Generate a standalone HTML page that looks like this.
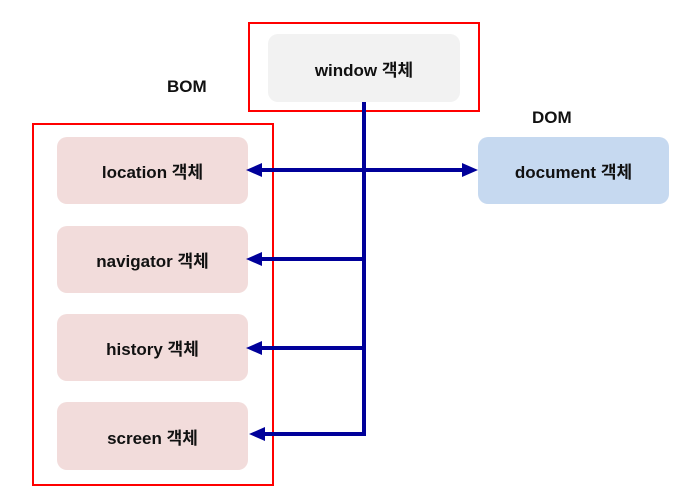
<!DOCTYPE html>
<html><head><meta charset="utf-8"><style>
body{margin:0;width:690px;height:490px;background:#fff;position:relative;overflow:hidden;font-family:"Liberation Sans","Noto Sans CJK KR",sans-serif}
.b{position:absolute;border-radius:10px;display:flex;align-items:center;justify-content:center;font-weight:bold;font-size:17px;color:#111}
.r{position:absolute;border:2px solid #f00;box-sizing:border-box}
.t{position:absolute;font-weight:bold;font-size:17px;color:#111}
</style></head><body>
<div class="r" style="left:248px;top:22px;width:232px;height:90px"></div>
<div class="r" style="left:32px;top:123px;width:242px;height:363px"></div>
<div class="b" style="left:268px;top:34px;width:192px;height:68px;background:#f2f2f2">window 객체</div>
<div class="b" style="left:57px;top:137px;width:191px;height:67px;background:#f2dcdb">location 객체</div>
<div class="b" style="left:57px;top:226px;width:191px;height:67px;background:#f2dcdb">navigator 객체</div>
<div class="b" style="left:57px;top:314px;width:191px;height:67px;background:#f2dcdb">history 객체</div>
<div class="b" style="left:57px;top:402px;width:191px;height:68px;background:#f2dcdb">screen 객체</div>
<div class="b" style="left:478px;top:137px;width:191px;height:67px;background:#c6d9f0">document 객체</div>
<div class="t" style="left:167px;top:77px">BOM</div>
<div class="t" style="left:532px;top:108px">DOM</div>
<svg width="690" height="490" style="position:absolute;left:0;top:0">
<g stroke="#00009a" stroke-width="4" fill="none">
<polyline points="364,102 364,434 260,434"/>
<line x1="260" y1="170" x2="466" y2="170"/>
<line x1="260" y1="259" x2="364" y2="259"/>
<line x1="260" y1="348" x2="364" y2="348"/>
</g>
<g fill="#00009a">
<polygon points="246,170 262,163 262,177"/>
<polygon points="478,170 462,163 462,177"/>
<polygon points="246,259 262,252 262,266"/>
<polygon points="246,348 262,341 262,355"/>
<polygon points="249,434 265,427 265,441"/>
</g>
</svg>
</body></html>
